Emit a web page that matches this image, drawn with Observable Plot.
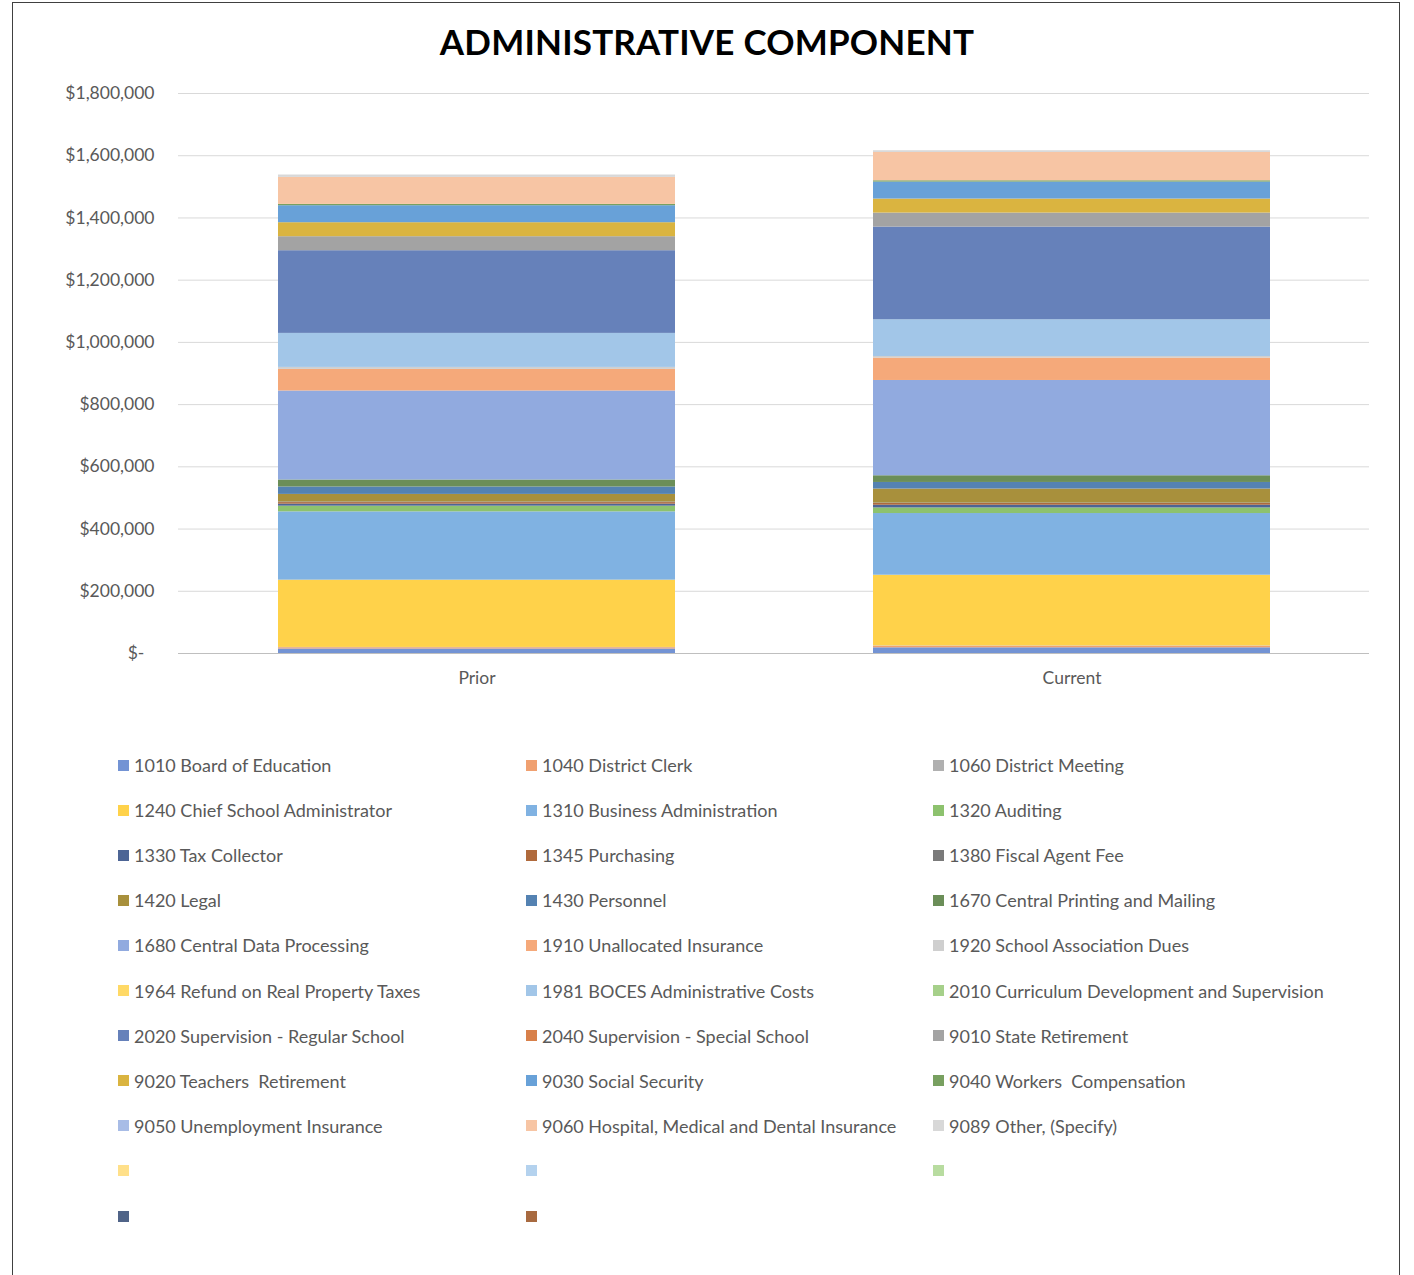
<!DOCTYPE html>
<html>
<head>
<meta charset="utf-8">
<script src="https://cdn.jsdelivr.net/npm/d3@7"></script>
<script src="https://cdn.jsdelivr.net/npm/@observablehq/plot@0.6"></script>
<style>
  html, body { margin: 0; padding: 0; background: #fff; }
  #frame { position: relative; width: 1414px; height: 1275px; overflow: hidden; font-family: Lato, "Open Sans", sans-serif; }
  #border { position: absolute; left: 12px; top: 2px; width: 1388px; height: 1300px; border: 1px solid #404040; box-sizing: border-box; }
  #title { position: absolute; left: 0; width: 1414px; top: 20px; text-align: center; font-weight: 700; font-size: 35px; color: #000; letter-spacing: 0.2px; }
  #chart { position: absolute; left: 0; top: 70px; }
  .lg { position: absolute; font-size: 18px; color: #595959; white-space: pre; line-height: 20px; }
  .sw { position: absolute; width: 11px; height: 11px; }
</style>
</head>
<body>
<div id="frame">
  <div id="border"></div>
  <div id="title">ADMINISTRATIVE COMPONENT</div>
  <div id="chart"></div>
  <div id="legend"></div>
</div>
<script>
const categories = ["Prior", "Current"];

const seriesNames = [
  "1010 Board of Education", "1040 District Clerk", "1060 District Meeting",
  "1240 Chief School Administrator", "1310 Business Administration", "1320 Auditing",
  "1330 Tax Collector", "1345 Purchasing", "1380 Fiscal Agent Fee",
  "1420 Legal", "1430 Personnel", "1670 Central Printing and Mailing",
  "1680 Central Data Processing", "1910 Unallocated Insurance", "1920 School Association Dues",
  "1964 Refund on Real Property Taxes", "1981 BOCES Administrative Costs", "2010 Curriculum Development and Supervision",
  "2020 Supervision - Regular School", "2040 Supervision - Special School", "9010 State Retirement",
  "9020 Teachers  Retirement", "9030 Social Security", "9040 Workers  Compensation",
  "9050 Unemployment Insurance", "9060 Hospital, Medical and Dental Insurance", "9089 Other, (Specify)",
  "", "", "",
  "", ""
];

const priorValues = [
  14500, 4000, 1000,
  216300, 219500, 18300,
  6400, 5000, 2000,
  24400, 23800, 22500,
  286100, 69400, 6400,
  0, 109300, 0,
  265800, 0, 45000,
  45000, 54600, 4200,
  0, 86800, 7700,
  0, 0, 0,
  0, 0
];

const currentValues = [
  18300, 5100, 1000,
  227200, 198300, 18000,
  8700, 5500, 1500,
  45000, 21200, 21500,
  306300, 72000, 5100,
  0, 118000, 0,
  298000, 0, 45000,
  45000, 54600, 4200,
  0, 91000, 5500,
  0, 0, 0,
  0, 0
];

const yTicks = [0, 200000, 400000, 600000, 800000, 1000000, 1200000, 1400000, 1600000, 1800000];

const palette = [
  "#7393d4", "#f0a070", "#b0b0b0",
  "#ffd24a", "#80b2e2", "#8dc26e",
  "#4d6595", "#b06a3c", "#7a7a7a",
  "#a8903c", "#5482b2", "#6b8e58",
  "#91aadf", "#f5a97a", "#cfcfcf",
  "#ffd966", "#a2c6e8", "#a6d08a",
  "#6681ba", "#d8804a", "#a3a3a3",
  "#dab440", "#68a1d8", "#78a060",
  "#a8bce6", "#f7c5a4", "#d8d8d8",
  "#ffe08a", "#b4d2ee", "#b8dca0",
  "#506488", "#a86a40"
];

const keys = seriesNames.map((n, i) => i);
const rows = [];
categories.forEach((c, ci) => {
  const vals = ci === 0 ? priorValues : currentValues;
  keys.forEach(k => rows.push({ period: c, key: k, value: vals[k] }));
});

const fmt = d => d === 0 ? "$-\u2007" : "$" + d3.format(",")(d);

const chart = Plot.plot({
  width: 1414,
  height: 640,
  marginLeft: 178,
  marginRight: 45,
  marginTop: 23,
  marginBottom: 57,
  style: { fontFamily: "Lato, 'Open Sans', sans-serif", fontSize: "17.5px", color: "#595959", background: "transparent" },
  x: { domain: categories, paddingInner: 1 / 3, paddingOuter: 1 / 6, label: null },
  y: { domain: [0, 1800000], label: null },
  color: { type: "ordinal", domain: keys, range: palette },
  marks: [
    Plot.gridY(yTicks, { stroke: "#d9d9d9", strokeOpacity: 1 }),
    Plot.barY(rows, { x: "period", y: "value", fill: "key" }),
    Plot.ruleY([0], { stroke: "#bfbfbf", strokeWidth: 1.2 }),
    Plot.axisY(yTicks, { tickSize: 0, tickPadding: 24, tickFormat: fmt, fill: "#595959", fontSize: 17.5, label: null }),
    Plot.axisX({ tickSize: 0, tickPadding: 18, fill: "#595959", fontSize: 17.5, label: null })
  ]
});
document.getElementById("chart").appendChild(chart);

const legend = document.getElementById("legend");
const colX = [118, 526, 933];
const rowY0 = 765, rowStep = 45.1;
seriesNames.forEach((name, i) => {
  const col = i % 3, row = Math.floor(i / 3);
  const cy = rowY0 + row * rowStep;
  const sw = document.createElement("div");
  sw.className = "sw";
  sw.style.left = colX[col] + "px";
  sw.style.top = (cy - 5.5) + "px";
  sw.style.background = palette[i];
  legend.appendChild(sw);
  if (name) {
    const t = document.createElement("div");
    t.className = "lg";
    t.textContent = name;
    t.style.left = (colX[col] + 16) + "px";
    t.style.top = (cy - 10) + "px";
    legend.appendChild(t);
  }
});
</script>
</body>
</html>
